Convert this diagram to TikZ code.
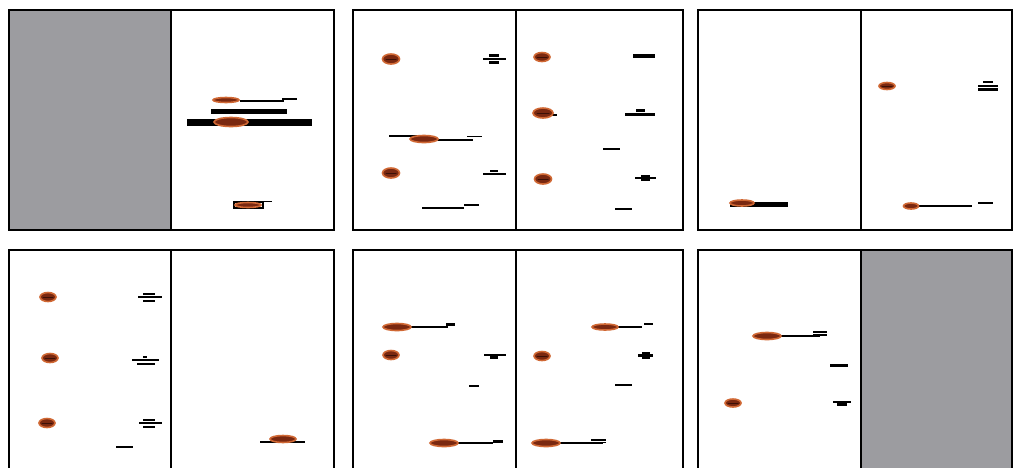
\documentclass[tikz,border=0pt]{standalone}
\usepackage{xcolor}
\usepackage{tikz}
\definecolor{gelgray}{RGB}{156,156,160}
\definecolor{ringorange}{RGB}{208,104,52}
\definecolor{blobbrown}{RGB}{122,40,16}
\definecolor{blobcore}{RGB}{60,16,6}
\tikzset{
  pnframe/.style={line width=2pt, draw=black},
  pnshade/.style={fill=gelgray},
  pnblob/.style={fill=blobbrown, draw=ringorange, line width=1.6pt},
  pncore/.style={line width=1pt, draw=blobcore, line cap=round},
  pnline/.style={line width=1.9pt, draw=black, line cap=butt},
  pnband/.style={line width=3pt, draw=black, line cap=butt},
  pnslab/.style={line width=5pt, draw=black, line cap=butt},
}
\begin{document}
\begin{tikzpicture}[x=1pt, y=-1pt]
\useasboundingbox (0,0) rectangle (1016,467);
\clip (0,0) rectangle (1016,467);
\fill[white] (0,0) rectangle (1016,467);
\fill[pnshade] (9,10) rectangle (171,230);
\fill[pnshade] (861,250) rectangle (1012,480);
\draw[pnframe] (9,10) rectangle (334,230);
\draw[pnframe] (171,10) -- (171,230);
\draw[pnframe] (353,10) rectangle (683,230);
\draw[pnframe] (516,10) -- (516,230);
\draw[pnframe] (698,10) rectangle (1012,230);
\draw[pnframe] (861,10) -- (861,230);
\draw[pnframe] (9,250) rectangle (334,480);
\draw[pnframe] (171,250) -- (171,480);
\draw[pnframe] (353,250) rectangle (683,480);
\draw[pnframe] (516,250) -- (516,480);
\draw[pnframe] (698,250) rectangle (1012,480);
\draw[pnframe] (861,250) -- (861,480);
\draw[pnline] (240,101) -- (283,101) -- (283,99) -- (297,99);
\draw[pnblob] (226,100) ellipse [x radius=13pt, y radius=2.5pt];
\draw[pnslab] (211,111) -- (287,111);
\draw[line width=7pt, draw=black] (187,122) -- (312,122);
\draw[pnblob] (231,122) ellipse [x radius=17pt, y radius=4.5pt];
\draw[pnline] (248,201.5) -- (272,201.5);
\draw[line width=1.2pt, draw=black] (234,202) rectangle (263,208);
\draw[pnblob] (248,205) ellipse [x radius=13pt, y radius=2.5pt];
\draw[pnblob] (391,59) ellipse [x radius=8.5pt, y radius=5pt];
\draw[pncore] (386,59) -- (396,59);
\draw[pnline] (483,59) -- (506,59);
\draw[pnline, line width=2.4pt] (489,55.5) -- (499,55.5);
\draw[pnline, line width=2.4pt] (489,62.5) -- (499,62.5);
\draw[pnline] (389,136) -- (420,136);
\draw[pnline] (430,140) -- (473,140);
\draw[pnline] (467,136.5) -- (482,136.5);
\draw[pnblob] (424,139) ellipse [x radius=14pt, y radius=3.5pt];
\draw[pnblob] (391,173) ellipse [x radius=8.5pt, y radius=5pt];
\draw[pncore] (386,173) -- (396,173);
\draw[pnline] (483,174) -- (506,174);
\draw[pnline, line width=2.4pt] (490,171) -- (498,171);
\draw[pnline] (422,208) -- (464,208);
\draw[pnline] (464,205) -- (479,205);
\draw[pnblob] (542,57) ellipse [x radius=8pt, y radius=4.5pt];
\draw[pncore] (537,57) -- (547,57);
\draw[line width=4pt, draw=black] (633,56) -- (655,56);
\draw[pnline, line width=2.2pt] (540,115) -- (557,115);
\draw[pnblob] (543,113) ellipse [x radius=10pt, y radius=5pt];
\draw[pncore] (537,113) -- (549,113);
\draw[pnband] (625,114) -- (655,114);
\draw[pnband] (636,110.5) -- (645,110.5);
\draw[pnline] (603,149) -- (620,149);
\draw[pnblob] (543,179) ellipse [x radius=8.5pt, y radius=5pt];
\draw[pncore] (538,179) -- (548,179);
\draw[pnline] (635,178) -- (656,178);
\draw[line width=6pt, draw=black] (641,178) -- (650,178);
\draw[pnline] (615,209) -- (632,209);
\draw[pnslab] (730,204) -- (788,204);
\draw[pnblob] (742,203) ellipse [x radius=12pt, y radius=3pt];
\draw[pnblob] (887,86) ellipse [x radius=8pt, y radius=3.5pt];
\draw[pncore] (882,86) -- (892,86);
\draw[pnline, line width=2.2pt] (983,82) -- (993,82);
\draw[pnline, line width=2.2pt] (978,86) -- (998,86);
\draw[pnline, line width=2.2pt] (978,89.5) -- (998,89.5);
\draw[pnline] (911,206) -- (972,206);
\draw[pnblob] (911,206) ellipse [x radius=7.5pt, y radius=3pt];
\draw[pnline] (978,203) -- (993,203);
\draw[pnblob] (48,297) ellipse [x radius=8pt, y radius=4.5pt];
\draw[pncore] (43,297) -- (53,297);
\draw[pnline] (138,297) -- (162,297);
\draw[pnline, line width=2.4pt] (143,294) -- (155,294);
\draw[pnline, line width=2.4pt] (143,301) -- (155,301);
\draw[pnblob] (50,358) ellipse [x radius=8pt, y radius=4.5pt];
\draw[pncore] (45,358) -- (55,358);
\draw[pnline] (132,360) -- (159,360);
\draw[pnline, line width=2.4pt] (143,357) -- (147,357);
\draw[pnline, line width=2.4pt] (137,364) -- (155,364);
\draw[pnblob] (47,423) ellipse [x radius=8pt, y radius=4.5pt];
\draw[pncore] (42,423) -- (52,423);
\draw[pnline] (139,423) -- (162,423);
\draw[pnline, line width=2.4pt] (143,420) -- (155,420);
\draw[pnline, line width=2.4pt] (143,427) -- (155,427);
\draw[pnline] (116,447) -- (133,447);
\draw[pnline] (260,442) -- (305,442);
\draw[pnblob] (283,439) ellipse [x radius=13pt, y radius=3.5pt];
\draw[pnline] (397,327) -- (448,327);
\draw[pnband] (446,324) -- (455,324);
\draw[pnblob] (397,327) ellipse [x radius=14pt, y radius=3.5pt];
\draw[pnblob] (391,355) ellipse [x radius=8pt, y radius=4.5pt];
\draw[pncore] (386,355) -- (396,355);
\draw[pnline] (484,355) -- (506,355);
\draw[pnband] (490,357.5) -- (498,357.5);
\draw[pnline] (469,386) -- (479,386);
\draw[pnline] (444,443) -- (493,443);
\draw[pnband] (493,441) -- (503,441);
\draw[pnblob] (444,443) ellipse [x radius=14pt, y radius=3.5pt];
\draw[pnline] (605,327) -- (642,327);
\draw[pnline] (644,324) -- (653,324);
\draw[pnblob] (605,327) ellipse [x radius=13pt, y radius=3pt];
\draw[pnblob] (542,356) ellipse [x radius=8pt, y radius=4.5pt];
\draw[pncore] (537,356) -- (547,356);
\draw[pnband] (638,355) -- (653,355);
\draw[line width=7pt, draw=black] (642,355) -- (650,355);
\draw[pnline] (615,385) -- (632,385);
\draw[pnline] (546,443) -- (603,443);
\draw[pnline] (591,440) -- (606,440);
\draw[pnline] (591,442.5) -- (606,442.5);
\draw[pnblob] (546,443) ellipse [x radius=14pt, y radius=3.5pt];
\draw[pnline] (767,336) -- (820,336);
\draw[pnline] (813,332) -- (827,332);
\draw[pnline] (813,335) -- (827,335);
\draw[pnblob] (767,336) ellipse [x radius=14pt, y radius=3.5pt];
\draw[pnband] (830,365) -- (848,365);
\draw[pnline, line width=2.2pt] (833,402) -- (851,402);
\draw[pnband] (837,404) -- (847,404);
\draw[pnblob] (733,403) ellipse [x radius=8pt, y radius=4pt];
\draw[pncore] (728,403) -- (738,403);
\end{tikzpicture}
\end{document}
